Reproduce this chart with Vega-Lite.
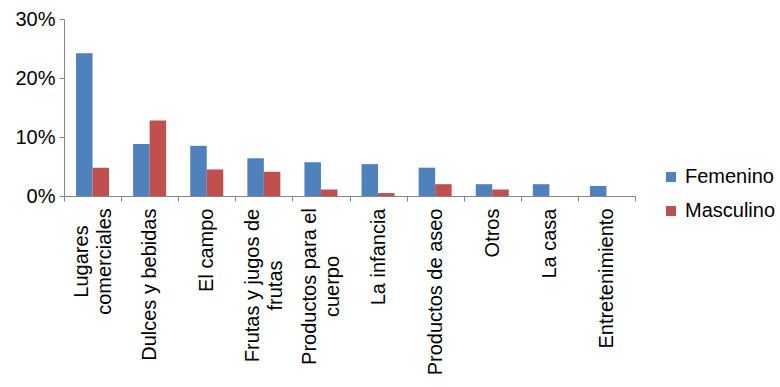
{
  "$schema": "https://vega.github.io/schema/vega-lite/v6.json",
  "width": 571,
  "height": 177,
  "autosize": "none",
  "padding": {"left": 64, "top": 19, "right": 145, "bottom": 191},
  "background": "white",
  "config": {
    "view": {"stroke": null},
    "font": "Liberation Sans",
    "axis": {"labelFont": "Liberation Sans", "labelFontSize": 20, "labelColor": "#000000", "domainColor": "#868686", "tickColor": "#868686", "grid": false}
  },
  "data": {
    "values": [
      {"cat": "Lugares comerciales", "sexo": "Femenino", "v": 0.242},
      {"cat": "Lugares comerciales", "sexo": "Masculino", "v": 0.048},
      {"cat": "Dulces y bebidas", "sexo": "Femenino", "v": 0.088},
      {"cat": "Dulces y bebidas", "sexo": "Masculino", "v": 0.128},
      {"cat": "El campo", "sexo": "Femenino", "v": 0.085},
      {"cat": "El campo", "sexo": "Masculino", "v": 0.045},
      {"cat": "Frutas y jugos de frutas", "sexo": "Femenino", "v": 0.064},
      {"cat": "Frutas y jugos de frutas", "sexo": "Masculino", "v": 0.041},
      {"cat": "Productos para el cuerpo", "sexo": "Femenino", "v": 0.057},
      {"cat": "Productos para el cuerpo", "sexo": "Masculino", "v": 0.011},
      {"cat": "La infancia", "sexo": "Femenino", "v": 0.054},
      {"cat": "La infancia", "sexo": "Masculino", "v": 0.005},
      {"cat": "Productos de aseo", "sexo": "Femenino", "v": 0.048},
      {"cat": "Productos de aseo", "sexo": "Masculino", "v": 0.020},
      {"cat": "Otros", "sexo": "Femenino", "v": 0.020},
      {"cat": "Otros", "sexo": "Masculino", "v": 0.011},
      {"cat": "La casa", "sexo": "Femenino", "v": 0.020},
      {"cat": "La casa", "sexo": "Masculino", "v": 0.0},
      {"cat": "Entretenimiento", "sexo": "Femenino", "v": 0.017},
      {"cat": "Entretenimiento", "sexo": "Masculino", "v": 0.0}
    ]
  },
  "mark": {"type": "bar"},
  "encoding": {
    "x": {
      "field": "cat",
      "type": "nominal",
      "sort": null,
      "scale": {"paddingInner": 0, "paddingOuter": 0},
      "axis": {
        "title": null,
        "labelAngle": -90,
        "labelAlign": {"condition": {"test": "indexof(['Lugares comerciales', 'Frutas y jugos de frutas', 'Productos para el cuerpo'], datum.value) >= 0", "value": "center"}, "value": "right"},
        "labelBaseline": "middle",
        "labelPadding": {"condition": [
          {"test": "datum.value == 'Lugares comerciales'", "value": 60},
          {"test": "datum.value == 'Frutas y jugos de frutas'", "value": 84},
          {"test": "datum.value == 'Productos para el cuerpo'", "value": 85}
        ], "value": 7},
        "labelOffset": {"condition": {"test": "indexof(['Lugares comerciales', 'Frutas y jugos de frutas', 'Productos para el cuerpo'], datum.value) >= 0", "value": -11}, "value": 0},
        "labelLineHeight": 23,
        "tickBand": "extent",
        "tickSize": 5,
        "labelExpr": "datum.label == 'Lugares comerciales' ? ['Lugares', 'comerciales'] : datum.label == 'Frutas y jugos de frutas' ? ['Frutas y jugos de', 'frutas'] : datum.label == 'Productos para el cuerpo' ? ['Productos para el', 'cuerpo'] : datum.label"
      }
    },
    "xOffset": {
      "field": "sexo",
      "type": "nominal",
      "scale": {"paddingInner": 0, "paddingOuter": 0.73}
    },
    "y": {
      "field": "v",
      "type": "quantitative",
      "scale": {"domain": [0, 0.3], "nice": false},
      "axis": {"title": null, "format": ".0%", "values": [0, 0.1, 0.2, 0.3], "tickSize": 5, "labelPadding": 4}
    },
    "color": {
      "field": "sexo",
      "type": "nominal",
      "scale": {"domain": ["Femenino", "Masculino"], "range": ["#4F81BD", "#C0504D"]},
      "legend": {
        "title": null,
        "orient": "none",
        "legendX": 597,
        "legendY": 148,
        "symbolType": "square",
        "symbolSize": 100,
        "symbolStrokeWidth": 0,
        "labelFontSize": 20,
        "labelFont": "Liberation Sans",
        "labelColor": "#000000",
        "labelOffset": 4,
        "rowPadding": 14
      }
    }
  }
}
